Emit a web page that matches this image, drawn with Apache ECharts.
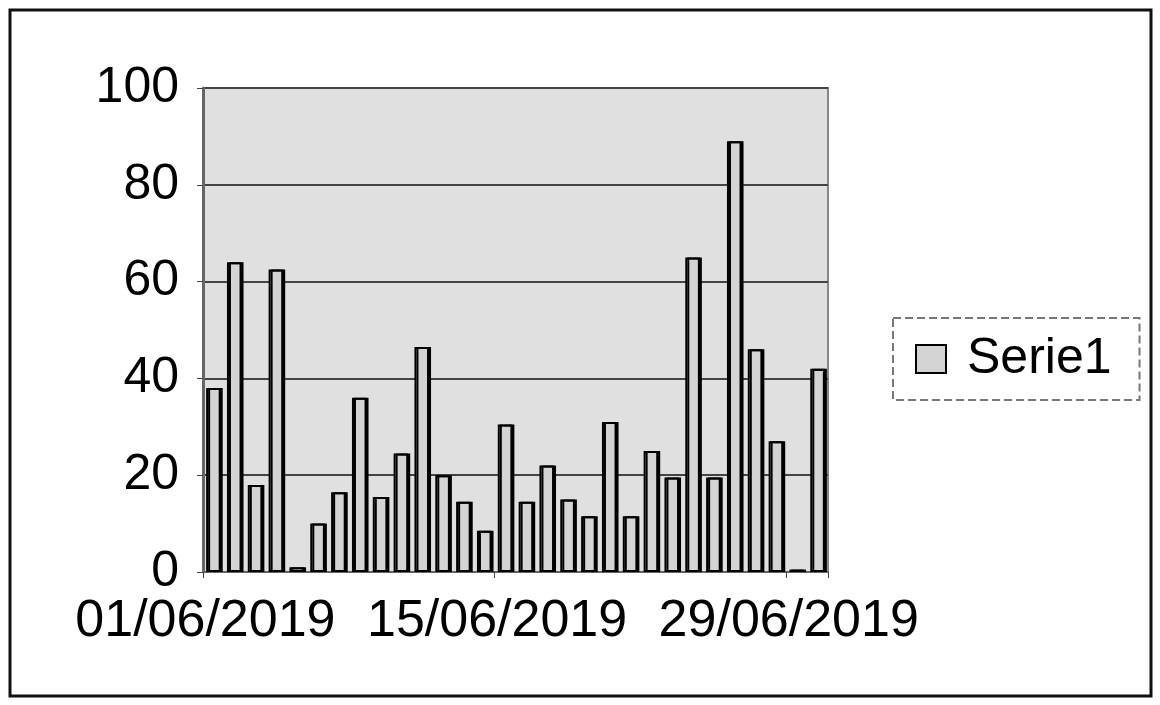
<!DOCTYPE html>
<html>
<head>
<meta charset="utf-8">
<script src="https://cdn.jsdelivr.net/npm/echarts@6/dist/echarts.min.js"></script>
<style>
  html, body { margin: 0; padding: 0; background: #fff; }
  #chart { width: 1160px; height: 705px; }
</style>
</head>
<body>
<div id="chart"></div>
<script>
// données
var dates = [];
for (var d = 1; d <= 30; d++) {
    dates.push((d < 10 ? '0' + d : '' + d) + '/06/2019');
}
var serie1 = [38, 64, 18, 62.5, 1, 10, 16.5, 36, 15.5, 24.5,
              46.5, 20, 14.5, 8.5, 30.5, 14.5, 22, 15, 11.5, 31,
              11.5, 25, 19.5, 65, 19.5, 89, 46, 27, 0.5, 42];
var yTicks = [0, 20, 40, 60, 80, 100];

var chart = echarts.init(document.getElementById('chart'));

var option = {
    backgroundColor: '#fff',
    animation: false,
    textStyle: { fontFamily: 'Liberation Sans, Arial, sans-serif', color: '#000' },
    // cadre extérieur
    graphic: [{
        type: 'rect',
        shape: { x: 10, y: 10, width: 1141, height: 686 },
        style: { fill: 'none', stroke: '#111', lineWidth: 3 }
    }],
    grid: {
        left: 203, right: 332, top: 88, bottom: 133,
        show: true,
        backgroundColor: '#e0e0e0',
        borderColor: '#888',
        borderWidth: 2
    },
    legend: {
        data: ['Serie1'],
        icon: 'rect',
        left: 893, top: 318,
        orient: 'vertical',
        padding: [16, 28, 16, 22],
        borderColor: '#777',
        borderWidth: 2,
        borderType: 'dashed',
        itemWidth: 30, itemHeight: 28,
        textStyle: { fontSize: 50, color: '#000', fontFamily: 'Liberation Sans, Arial, sans-serif', padding: [0, 0, 0, 16] },
        itemStyle: { color: '#d4d4d4', borderColor: '#000', borderWidth: 2 }
    },
    xAxis: {
        type: 'category',
        data: dates,
        boundaryGap: true,
        axisLine: { lineStyle: { color: '#666', width: 2 } },
        axisTick: { show: true, interval: 13, length: 6, lineStyle: { color: '#444' } },
        axisLabel: {
            interval: 13,
            fontSize: 52,
            color: '#000',
            margin: 24,
            padding: [0, 16, 0, 0]
        },
        splitLine: { show: false }
    },
    yAxis: {
        type: 'value',
        min: yTicks[0],
        max: yTicks[yTicks.length - 1],
        interval: 20,
        axisLine: { show: true, lineStyle: { color: '#666', width: 3 } },
        axisTick: { show: true, length: 6, lineStyle: { color: '#444' } },
        axisLabel: { fontSize: 50, color: '#000', margin: 24 },
        splitLine: { lineStyle: { color: '#444', width: 2 } }
    },
    series: [{
        name: 'Serie1',
        type: 'bar',
        data: serie1,
        barCategoryGap: '30%',
        itemStyle: {
            color: '#d4d4d4',
            borderColor: '#000',
            borderWidth: 2,
            shadowColor: '#000',
            shadowOffsetX: 2,
            shadowBlur: 0
        }
    }]
};

chart.setOption(option);
</script>
</body>
</html>
